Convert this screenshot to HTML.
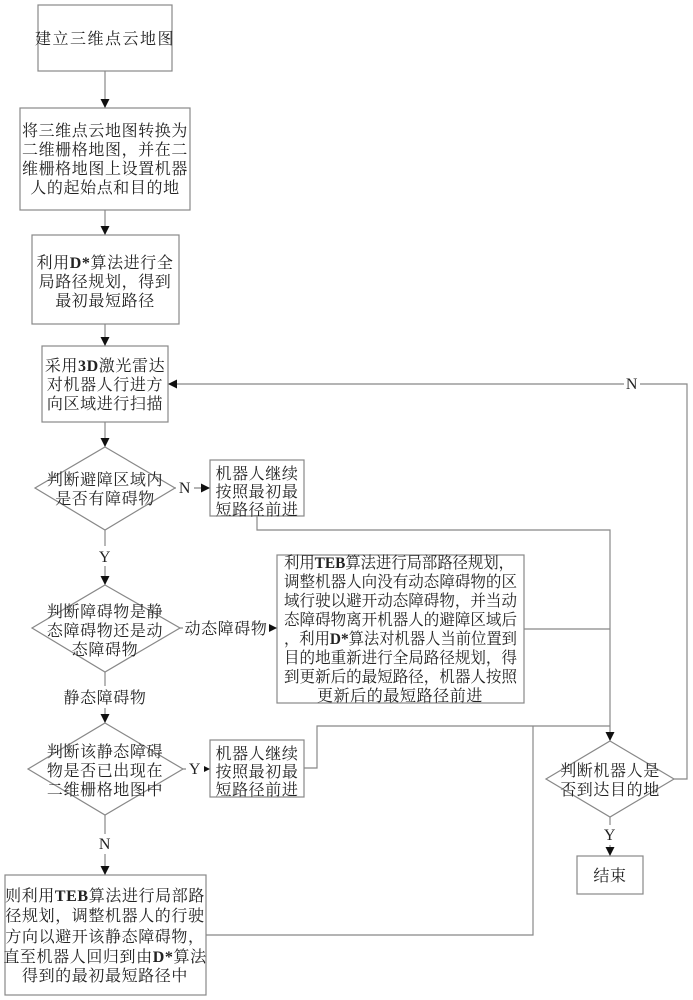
<!DOCTYPE html>
<html><head><meta charset="utf-8"><style>
html,body{margin:0;padding:0;background:#fff;}
svg{display:block;}
text{font-family:"Liberation Serif","Noto Serif CJK SC",serif;font-size:16px;fill:#222;}
</style></head><body>
<svg width="693" height="1000" viewBox="0 0 693 1000" xmlns="http://www.w3.org/2000/svg">
<defs><marker id="a" markerWidth="9" markerHeight="9" refX="8" refY="4.5" orient="auto" markerUnits="userSpaceOnUse"><path d="M0,0 L9,4.5 L0,9 z" fill="#111"/></marker></defs>
<g stroke="#888" stroke-width="1.2" fill="none">
<rect x="38" y="5" width="134" height="66"/>
<rect x="20" y="108" width="170" height="102"/>
<rect x="32" y="235" width="147" height="89"/>
<rect x="42" y="346" width="126" height="76"/>
<polygon points="105,447 175,488 105,530 35,488"/>
<rect x="210" y="460" width="94" height="56"/>
<polygon points="105,585 180,628 105,672 32,628"/>
<rect x="277" y="555" width="247" height="148"/>
<polygon points="105,723 183,769 105,815 28,769"/>
<rect x="210" y="740" width="94" height="57"/>
<rect x="5" y="875" width="201" height="120"/>
<polygon points="610,741 674,779 610,817 546,779"/>
<rect x="577" y="856" width="66" height="38"/>
</g>
<g stroke="#888" stroke-width="1.2" fill="none">
<line x1="105" y1="71" x2="105" y2="107" marker-end="url(#a)"/>
<line x1="105" y1="210" x2="105" y2="234" marker-end="url(#a)"/>
<line x1="105" y1="324" x2="105" y2="345" marker-end="url(#a)"/>
<line x1="105" y1="422" x2="105" y2="446" marker-end="url(#a)"/>
<line x1="175" y1="488" x2="209" y2="488" marker-end="url(#a)"/>
<line x1="105" y1="530" x2="105" y2="584" marker-end="url(#a)"/>
<line x1="180" y1="628" x2="276" y2="628" marker-end="url(#a)"/>
<line x1="105" y1="672" x2="105" y2="722" marker-end="url(#a)"/>
<line x1="183" y1="769" x2="209" y2="769" marker-end="url(#a)"/>
<line x1="105" y1="815" x2="105" y2="874" marker-end="url(#a)"/>
<polyline points="257,516 257,530 610,530 610,740" marker-end="url(#a)"/>
<line x1="524" y1="629" x2="610" y2="629"/>
<polyline points="304,768 317,768 317,726 610,726"/>
<polyline points="206,935 533,935 533,726"/>
<polyline points="674,779 687,779 687,384 169,384" marker-end="url(#a)"/>
<line x1="610" y1="817" x2="610" y2="855" marker-end="url(#a)"/>
</g>
<g text-anchor="middle" letter-spacing="0.6">
<rect x="96" y="546" width="18" height="20" fill="#fff"/>
<rect x="176" y="480" width="18" height="16" fill="#fff"/>
<rect x="186" y="761" width="18" height="16" fill="#fff"/>
<rect x="96" y="834" width="18" height="20" fill="#fff"/>
<rect x="600" y="825" width="18" height="20" fill="#fff"/>
<rect x="624" y="376" width="16" height="16" fill="#fff"/>
<rect x="183" y="619" width="86" height="20" fill="#fff"/>
<rect x="60" y="686" width="90" height="22" fill="#fff"/>
<text x="105" y="44" letter-spacing="1.5">建立三维点云地图</text>
<text x="105" y="136">将三维点云地图转换为</text>
<text x="105" y="155">二维栅格地图，并在二</text>
<text x="105" y="174">维栅格地图上设置机器</text>
<text x="105" y="193">人的起始点和目的地</text>
<text x="105" y="268">利用<tspan font-weight="bold">D*</tspan>算法进行全</text>
<text x="105" y="287">局路径规划，得到</text>
<text x="105" y="306">最初最短路径</text>
<text x="105" y="371">采用<tspan font-weight="bold">3D</tspan>激光雷达</text>
<text x="105" y="390">对机器人行进方</text>
<text x="105" y="409">向区域进行扫描</text>
<text x="105" y="485">判断避障区域内</text>
<text x="105" y="504">是否有障碍物</text>
<text x="257" y="479">机器人继续</text>
<text x="257" y="497">按照最初最</text>
<text x="257" y="515">短路径前进</text>
<text x="185" y="493" font-size="14">N</text>
<text x="105" y="562" font-size="14">Y</text>
<text x="105" y="617">判断障碍物是静</text>
<text x="105" y="636">态障碍物还是动</text>
<text x="105" y="655">态障碍物</text>
<text x="226" y="634">动态障碍物</text>
<text x="105" y="703">静态障碍物</text>
<text x="105" y="757">判断该静态障碍</text>
<text x="105" y="776">物是否已出现在</text>
<text x="105" y="795">二维栅格地图中</text>
<text x="195" y="774" font-size="14">Y</text>
<text x="257" y="759">机器人继续</text>
<text x="257" y="777">按照最初最</text>
<text x="257" y="795">短路径前进</text>
<text x="105" y="849" font-size="14">N</text>
<text x="105" y="901">则利用<tspan font-weight="bold">TEB</tspan>算法进行局部路</text>
<text x="105" y="921">径规划，调整机器人的行驶</text>
<text x="105" y="942">方向以避开该静态障碍物，</text>
<text x="105" y="962">直至机器人回归到由<tspan font-weight="bold">D*</tspan>算法</text>
<text x="105" y="981">得到的最初最短路径中</text>
<text x="610" y="776">判断机器人是</text>
<text x="610" y="795">否到达目的地</text>
<text x="610" y="840" font-size="14">Y</text>
<text x="610" y="881">结束</text>
<text x="632" y="389" font-size="14">N</text>
</g>
<g>
<text x="284" y="568" textLength="230" lengthAdjust="spacingAndGlyphs">利用<tspan font-weight="bold">TEB</tspan>算法进行局部路径规划，</text>
<text x="284" y="587" textLength="233" lengthAdjust="spacingAndGlyphs">调整机器人向没有动态障碍物的区</text>
<text x="284" y="606" textLength="233" lengthAdjust="spacingAndGlyphs">域行驶以避开动态障碍物，并当动</text>
<text x="284" y="625" textLength="233" lengthAdjust="spacingAndGlyphs">态障碍物离开机器人的避障区域后</text>
<text x="284" y="644" textLength="233" lengthAdjust="spacingAndGlyphs">，利用<tspan font-weight="bold">D*</tspan>算法对机器人当前位置到</text>
<text x="284" y="663" textLength="233" lengthAdjust="spacingAndGlyphs">目的地重新进行全局路径规划，得</text>
<text x="284" y="682" textLength="233" lengthAdjust="spacingAndGlyphs">到更新后的最短路径，机器人按照</text>
<text x="400" y="701" text-anchor="middle" letter-spacing="0.6">更新后的最短路径前进</text>
</g>
</svg>
</body></html>
